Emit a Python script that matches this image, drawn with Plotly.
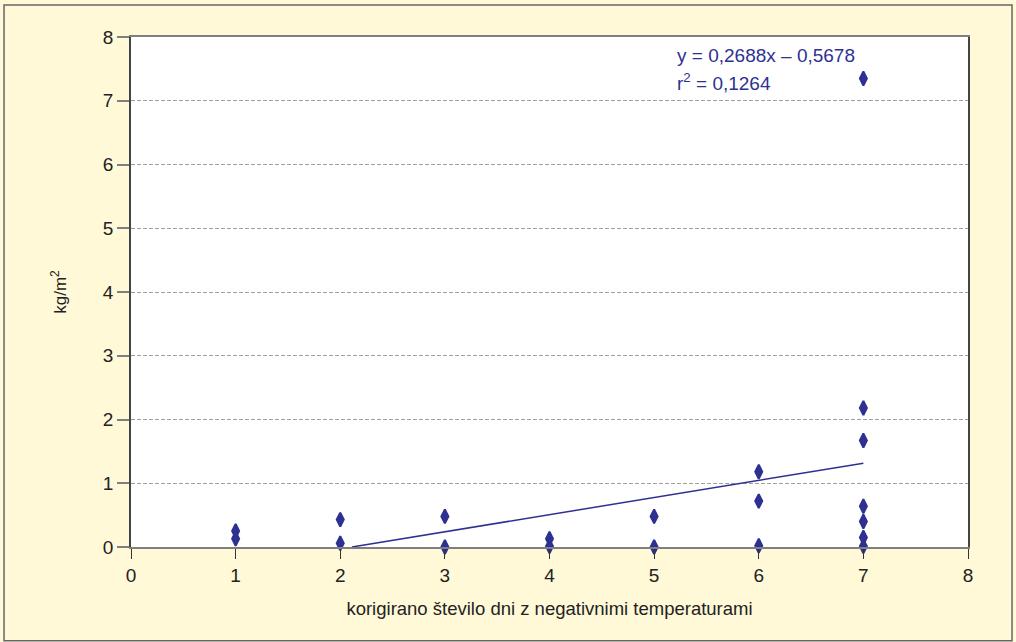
import plotly.graph_objects as go

# Data
x_vals = [1, 1, 2, 2, 3, 3, 4, 4, 5, 5, 6, 6, 6, 6, 7, 7, 7, 7, 7, 7, 7]
y_vals = [0.25, 0.13, 0.43, 0.06, 0.48, 0.0, 0.13, 0.01, 0.48, 0.0,
          1.18, 0.72, 0.02, -0.01, 7.35, 2.18, 1.67, 0.64, 0.40, 0.15, 0.01]
slope = 0.2688
intercept = -0.5678
trend_x = [2.112, 7]
trend_y = [slope * v + intercept for v in trend_x]
x_ticks = [0, 1, 2, 3, 4, 5, 6, 7, 8]
y_ticks = [0, 1, 2, 3, 4, 5, 6, 7, 8]

blue = "#2E3192"
font_family = "Liberation Sans, Arial, sans-serif"

fig = go.Figure()
fig.add_trace(go.Scatter(x=x_vals, y=y_vals, mode="markers",
                         marker=dict(symbol="diamond-tall", size=10, color=blue,
                                     line=dict(color=blue, width=2)),
                         cliponaxis=False, showlegend=False))
fig.add_trace(go.Scatter(x=trend_x, y=trend_y, mode="lines",
                         line=dict(color=blue, width=1.5), showlegend=False))

fig.update_layout(
    width=1016, height=642,
    margin=dict(l=131, r=48, t=37, b=95),
    paper_bgcolor="#FFF9D8", plot_bgcolor="white",
    font=dict(family=font_family, size=19, color="#222222"),
    xaxis=dict(range=[0, 8], tickvals=x_ticks, showgrid=False, zeroline=False,
               showline=True, linecolor="#7f7f7f", linewidth=2, mirror=True,
               ticks="outside", ticklen=10, tickcolor="#333333", tickwidth=1,
               automargin=False,
               title=dict(text="korigirano število dni z negativnimi temperaturami",
                          font=dict(size=18.5), standoff=17)),
    yaxis=dict(range=[0, 8], tickvals=y_ticks, showgrid=True, gridcolor="#a0a0a0",
               griddash="4px,2px", gridwidth=1, zeroline=False,
               showline=True, linecolor="#444444", linewidth=1.5, mirror=True,
               ticks="outside", ticklen=12, tickcolor="#7f7f7f", tickwidth=1.5,
               automargin=False,
               title=dict(text="kg/m<sup>2</sup>", font=dict(size=17), standoff=32)),
    annotations=[
        dict(xref="x", yref="y", x=5.2, y=7.71, xanchor="left", yanchor="middle",
             text="y = 0,2688x – 0,5678", showarrow=False,
             font=dict(color=blue, size=19)),
        dict(xref="x", yref="y", x=5.2, y=7.29, xanchor="left", yanchor="middle",
             text="r<sup>2</sup> = 0,1264", showarrow=False,
             font=dict(color=blue, size=19)),
    ],
    shapes=[dict(type="rect", xref="paper", yref="paper",
                 x0=-0.1517, x1=1.0526, y0=-0.184, y1=1.0627,
                 line=dict(color="#666666", width=1.5), layer="below")],
)

fig.write_html("out.html", config={"displayModeBar": False},
               post_script="document.body.style.margin='0';document.body.style.padding='0';")
